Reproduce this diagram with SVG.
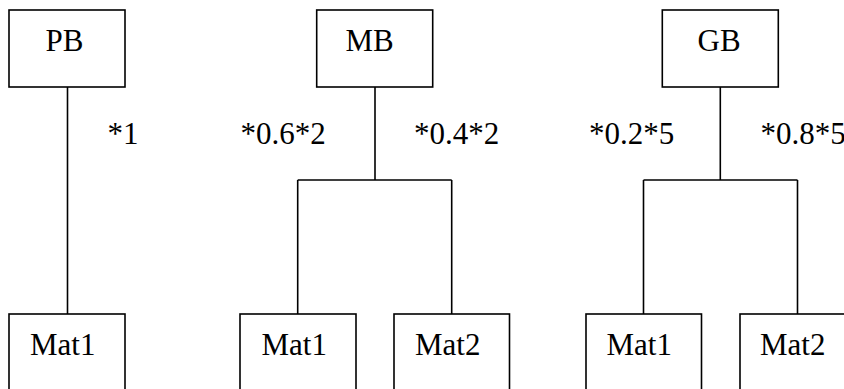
<svg xmlns="http://www.w3.org/2000/svg" width="844" height="389" viewBox="0 0 844 389">
<style>
.box{fill:#fff;stroke:#000;stroke-width:1.6}
.ln{fill:none;stroke:#000;stroke-width:1.6}
.t{font-family:"Liberation Serif","Times New Roman",Times,serif;font-size:31px;fill:#000}
</style>
<rect width="844" height="389" fill="#fff"/>
<g id="connectors">
<path class="ln" d="M67.5,87 V314"/>
<path class="ln" d="M375,87 V180 M297.7,180 H451.7 M297.7,180 V314 M451.7,180 V314"/>
<path class="ln" d="M720.3,87 V180 M643.5,180 H797.5 M643.5,180 V314 M797.5,180 V314"/>
<text class="t" x="107.5" y="144">*1</text>
<text class="t" x="240.5" y="144">*0.6*2</text>
<text class="t" x="414" y="144">*0.4*2</text>
<text class="t" x="589" y="144">*0.2*5</text>
<text class="t" x="760.5" y="144">*0.8*5</text>
</g>
<g id="PB"><rect class="box" x="9" y="10" width="116" height="77"/><text class="t" x="45.5" y="51">PB</text></g>
<g id="MB"><rect class="box" x="316.7" y="10" width="116" height="77"/><text class="t" x="345.5" y="51">MB</text></g>
<g id="GB"><rect class="box" x="662.3" y="10" width="116" height="77"/><text class="t" x="697.5" y="51">GB</text></g>
<g id="PB_Mat1"><rect class="box" x="9" y="314" width="116" height="77"/><text class="t" x="30" y="355">Mat1</text></g>
<g id="MB_Mat1"><rect class="box" x="240" y="314" width="116" height="77"/><text class="t" x="261.5" y="355">Mat1</text></g>
<g id="MB_Mat2"><rect class="box" x="394" y="314" width="115.5" height="77"/><text class="t" x="415" y="355">Mat2</text></g>
<g id="GB_Mat1"><rect class="box" x="586" y="314" width="115.5" height="77"/><text class="t" x="606.5" y="355">Mat1</text></g>
<g id="GB_Mat2"><rect class="box" x="740" y="314" width="116" height="77"/><text class="t" x="760" y="355">Mat2</text></g>
</svg>
